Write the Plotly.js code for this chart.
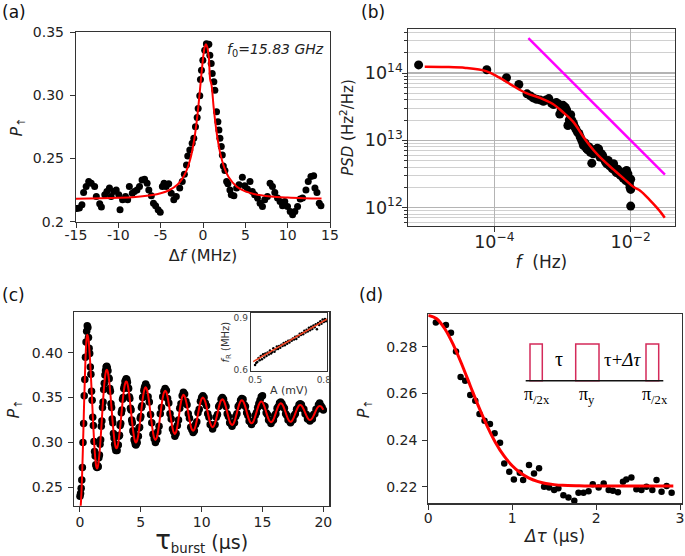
<!DOCTYPE html>
<html><head><meta charset="utf-8">
<script src="https://cdn.plot.ly/plotly-3.0.1.min.js"></script>
<style>html,body{margin:0;padding:0;background:#fff}#chart{width:685px;height:556px}</style>
</head><body><div id="chart"></div>
<script>
// ---------- panel (a) ----------
const aDf = [-14.9,-14.6,-14.3,-14.1,-13.8,-13.5,-13.2,-12.8,-12.6,-12.2,-12.0,-11.6,-11.35,-11.05,-10.85,-10.55,-10.25,-9.95,-9.8,-9.5,-9.15,-8.9,-8.7,-8.35,-8.1,-7.8,-7.5,-7.2,-6.9,-6.6,-6.4,-6.1,-5.85,-5.6,-5.3,-5.05,-4.8,-4.6,-4.35,-4.05,-3.75,-3.45,-3.15,-2.75,-2.45,-2.2,-1.95,-1.8,-1.56,-1.28,-1.09,-0.89,-0.69,-0.57,-0.38,-0.3,-0.18,-0.02,0.2,0.4,0.5,0.69,0.81,0.97,1.09,1.28,1.4,1.6,1.76,1.88,2.0,2.16,2.28,2.4,2.59,2.79,2.94,3.18,3.34,3.65,3.97,4.25,4.65,4.92,5.24,5.55,5.83,6.1,6.43,6.74,7.02,7.29,7.61,7.92,8.2,8.48,8.8,9.1,9.39,9.66,9.98,10.3,10.58,10.85,11.17,11.48,11.76,12.16,12.43,12.75,13.07,13.22,13.46,13.73,13.93];
const aP = [0.2105,0.2108,0.2134,0.2231,0.2279,0.2318,0.2305,0.2279,0.2200,0.2142,0.2116,0.2213,0.2239,0.2266,0.2200,0.2239,0.2252,0.2213,0.2095,0.2174,0.2200,0.2174,0.2279,0.2226,0.2239,0.2252,0.2279,0.2331,0.2337,0.2305,0.2252,0.2205,0.2147,0.2126,0.2095,0.2074,0.2279,0.2305,0.2279,0.2300,0.2226,0.2174,0.2200,0.2266,0.2318,0.2376,0.2450,0.2521,0.2568,0.2621,0.2661,0.2752,0.2826,0.2897,0.2997,0.3126,0.3200,0.3279,0.3358,0.3410,0.3397,0.3405,0.3318,0.3253,0.3174,0.3108,0.3042,0.2871,0.2792,0.2726,0.2661,0.2595,0.2529,0.2442,0.2405,0.2318,0.2300,0.2252,0.2213,0.2205,0.2266,0.2292,0.2352,0.2284,0.2258,0.2318,0.2239,0.2213,0.2187,0.2147,0.2121,0.2174,0.2200,0.2305,0.2279,0.2231,0.2187,0.2160,0.2126,0.2160,0.2121,0.2081,0.2055,0.2081,0.2121,0.2179,0.2187,0.2252,0.2318,0.2358,0.2363,0.2266,0.2231,0.2147,0.2126];
const aFitDf = [-15,-12,-10,-8,-6,-5,-4,-3,-2.5,-2,-1.5,-1.25,-1,-0.75,-0.5,-0.25,0,0.1,0.2,0.35,0.5,0.6,0.7,0.85,1,1.25,1.5,1.75,2,2.5,3,4,5,6,8,10,12,14];
const aFitP = [0.2181,0.2185,0.2189,0.2196,0.2211,0.2225,0.2249,0.2295,0.2335,0.2396,0.2496,0.2570,0.2666,0.2790,0.2945,0.3123,0.3292,0.3345,0.3383,0.3405,0.3383,0.3345,0.3292,0.3123,0.3087,0.2912,0.2763,0.2644,0.2553,0.2430,0.2356,0.2277,0.2240,0.2220,0.2200,0.2191,0.2186,0.2183];

// ---------- panel (b) ----------
const bF = [7.76e-6,7.76e-5,1.51e-4,2.29e-4,3.02e-4,3.39e-4,3.72e-4,4.17e-4,4.68e-4,5.25e-4,5.75e-4,6.31e-4,6.92e-4,7.41e-4,8.13e-4,8.71e-4,9.12e-4,9.55e-4,1.02e-3,1.10e-3,1.15e-3,1.20e-3,1.26e-3,1.32e-3,1.38e-3,1.45e-3,1.51e-3,1.58e-3,1.66e-3,1.74e-3,1.82e-3,1.91e-3,2.00e-3,2.04e-3,2.14e-3,2.24e-3,2.34e-3,2.45e-3,2.57e-3,2.69e-3,2.82e-3,2.95e-3,3.09e-3,3.24e-3,3.39e-3,3.55e-3,3.72e-3,3.89e-3,4.07e-3,4.27e-3,4.47e-3,4.68e-3,4.90e-3,5.13e-3,5.37e-3,5.62e-3,5.89e-3,6.17e-3,6.46e-3,6.76e-3,7.08e-3,7.41e-3,7.76e-3,8.13e-3,8.51e-3,8.71e-3,9.12e-3,9.33e-3,9.55e-3,9.77e-3,1.00e-2,1.00e-2,1.00e-2];
const bPSD = [1.32e14,1.12e14,8.51e13,6.76e13,4.90e13,4.57e13,4.27e13,4.07e13,3.98e13,3.80e13,3.98e13,4.17e13,3.55e13,3.39e13,3.63e13,3.47e13,2.45e13,2.82e13,3.31e13,3.09e13,2.82e13,1.66e13,2.00e13,2.40e13,1.95e13,1.78e13,1.58e13,1.45e13,1.32e13,1.26e13,1.12e13,1.00e13,8.91e12,8.32e12,9.12e12,7.59e12,7.24e12,7.94e12,6.61e12,4.57e12,6.31e12,7.24e12,6.92e12,7.59e12,7.41e12,5.62e12,6.31e12,5.89e12,5.25e12,4.79e12,4.47e12,5.01e12,4.17e12,4.27e12,3.80e12,4.47e12,3.55e12,3.31e12,3.72e12,3.16e12,3.02e12,3.31e12,2.75e12,2.95e12,2.51e12,3.55e12,3.16e12,2.69e12,2.29e12,2.00e12,2.63e12,1.86e12,1.05e12];
const bFitF = [9.55e-6,1.91e-5,3.80e-5,7.76e-5,1.17e-4,1.86e-4,2.95e-4,4.68e-4,7.24e-4,1.02e-3,1.45e-3,2.04e-3,2.88e-3,3.98e-3,5.62e-3,7.94e-3,1.12e-2,1.38e-2,1.91e-2,2.51e-2,3.16e-2];
const bFitPSD = [1.24e14,1.23e14,1.19e14,1.06e14,8.63e13,6.49e13,5.01e13,4.27e13,3.47e13,2.61e13,1.86e13,1.11e13,7.06e12,5.01e12,3.66e12,2.69e12,2.00e12,1.78e12,1.29e12,9.55e11,7.08e11];
const bRefF = [3.16e-4,3.18e-2];
const bRefPSD = [3.31e14,3.09e12];

// ---------- panel (c) ----------
const cT = [0,0.05,0.1,0.15,0.2,0.25,0.3,0.35,0.4,0.45,0.5,0.55,0.6,
0.65,0.7,0.75,0.8,0.85,0.9,0.95,1,1.05,1.1,1.15,1.2,1.25,1.3,1.35,1.4,
1.45,1.5,1.55,1.6,1.65,1.7,1.75,1.8,1.85,1.9,1.95,2,2.05,2.1,2.15,2.2,
2.25,2.3,2.35,2.4,2.45,2.5,2.55,2.6,2.65,2.7,2.75,2.8,2.85,2.9,2.95,3,
3.05,3.1,3.15,3.2,3.25,3.3,3.35,3.4,3.45,3.5,3.55,3.6,3.65,3.7,3.75,3.8,
3.85,3.9,3.95,4,4.05,4.1,4.15,4.2,4.25,4.3,4.35,4.4,4.45,4.5,4.55,4.6,
4.65,4.7,4.75,4.8,4.85,4.9,4.95,5,5.05,5.1,5.15,5.2,5.25,5.3,5.35,5.4,
5.5,5.6,5.7,5.8,5.9,6.0,6.1,6.2,
6.3,6.4,6.5,6.6,6.7,6.8,6.9,7.0,
7.1,7.2,7.3,7.4,7.5,7.6,7.7,7.8,
7.9,8.0,8.1,8.2,8.3,8.4,8.5,
8.6,8.7,8.8,8.9,9.0,9.1,9.2,9.3,
9.4,9.5,9.6,9.7,9.8,9.9,10.0,10.1,
10.2,10.3,10.4,10.5,10.6,10.7,10.8,10.9,
11.0,11.1,11.2,11.3,11.4,11.5,11.6,11.7,
11.8,11.9,12.0,12.1,12.2,12.3,12.4,12.5,
12.6,12.7,12.8,12.9,13.0,13.1,13.2,13.3,
13.4,13.5,13.6,13.7,13.8,13.9,14.0,14.1,
14.2,14.3,14.4,14.5,14.6,14.7,14.8,14.9,
15.0,15.1,15.2,15.3,15.4,15.5,15.6,15.7,
15.8,15.9,16.0,16.1,16.2,16.3,16.4,16.5,
16.6,16.7,16.8,16.9,17.0,17.1,17.2,17.3,
17.4,17.5,17.6,17.7,17.8,17.9,18.0,18.1,
18.2,18.3,18.4,18.5,18.6,18.7,18.8,18.9,
19.0,19.1,19.2,19.3,19.4,19.5,19.6,19.7,
19.8,19.9,20.0];
const cP = [.240,.243,.249,.258,.272,.300,.321,.352,.370,.395,.412,.424,.430,
.428,.417,.405,.399,.384,.376,.357,.347,.328,.319,.301,.290,.285,.275,.273,.272,
.274,.273,.283,.286,.298,.303,.318,.324,.339,.345,.359,.366,.375,.380,.384,.385,
.383,.380,.372,.371,.360,.357,.343,.339,.326,.322,.310,.305,.298,.294,.291,.292,
.291,.297,.297,.307,.308,.319,.321,.333,.336,.348,.350,.360,.363,.368,.369,.371,
.370,.367,.361,.360,.351,.349,.338,.336,.325,.322,.313,.311,.303,.301,.298,.297,
.299,.300,.307,.307,.316,.317,.327,.329,.339,.341,.350,.351,.358,.361,.363,.365,
.362,.351,.345,.331,.322,.309,.304,.300,
.303,.312,.318,.332,.339,.351,.357,.360,
.358,.349,.344,.332,.326,.315,.312,.307,
.310,.319,.325,.338,.343,.352,.356,
.354,.346,.342,.332,.327,.317,.314,.311,
.313,.320,.323,.333,.337,.346,.350,.352,
.350,.344,.341,.332,.328,.320,.319,.315,
.319,.320,.328,.331,.340,.342,.348,.350,
.348,.343,.340,.332,.329,.322,.321,.318,
.322,.322,.329,.332,.340,.342,.347,.349,
.348,.342,.340,.333,.330,.324,.323,.320,
.323,.324,.330,.333,.339,.343,.347,.351,
.352,.341,.340,.333,.331,.325,.324,.321,
.324,.325,.330,.332,.338,.340,.344,.345,
.343,.340,.338,.332,.330,.325,.325,.322,
.325,.325,.330,.332,.337,.338,.342,.343,
.342,.338,.337,.332,.331,.326,.327,.324,
.327,.326,.331,.332,.337,.337,.342,.344,
.341,.339,.336];
const cFit = [.225,.2283,.2381,.2536,.2738,.2972,.3225,.3478,.3713,.3914,.4069,.4167,.420,
.4186,.4143,.4074,.3982,.3869,.3740,.3600,.3455,.3310,.3170,.3041,.2928,.2836,.2767,.2724,.271,
.2720,.2752,.2803,.2871,.2954,.3049,.3153,.3260,.3367,.3471,.3566,.3649,.3717,.3768,.3800,.381,
.3801,.3777,.3736,.3682,.3616,.3540,.3458,.3372,.3287,.3205,.3129,.3063,.3009,.2968,.2943,.2935,
.2942,.2963,.2997,.3044,.3100,.3164,.3234,.3307,.3380,.3450,.3514,.3570,.3617,.3651,.3672,.368,
.3674,.3654,.3623,.3580,.3529,.3470,.3406,.334,.3274,.3210,.3151,.3100,.3057,.3026,.3006,.300,
.3006,.3023,.3052,.3090,.3136,.3189,.3247,.3307,.3367,.3425,.3478,.3524,.3562,.3591,.3608,.3614,
.3592,.3528,.3433,.3321,.3209,.3114,.3050,.3028,
.3048,.3108,.3197,.3302,.3407,.3496,.3556,.3577,
.3559,.3506,.3428,.3336,.3244,.3166,.3113,.3095,
.3116,.3176,.3263,.3361,.3448,.3508,.353,
.3515,.3471,.3407,.333,.3253,.3189,.3145,.313,
.3144,.3184,.3244,.3315,.3386,.3446,.3486,.350,
.3487,.3452,.3398,.3335,.3272,.3218,.3183,.317,
.3182,.3215,.3266,.3325,.3384,.3435,.3468,.348,
.3469,.3438,.3392,.3337,.3283,.3236,.3206,.3195,
.3205,.3235,.3279,.3332,.3385,.3429,.3459,.347,
.3461,.3433,.3391,.3342,.3293,.3251,.3223,.3213,
.3222,.3248,.3288,.3334,.3380,.3420,.3446,.3455,
.3446,.3421,.3384,.334,.3296,.3259,.3234,.3225,
.3233,.3255,.3290,.3330,.3370,.3405,.3427,.3436,
.3428,.3406,.3372,.3333,.3294,.3260,.3238,.323,
.3237,.3258,.3288,.3324,.3360,.3390,.3411,.3418,
.3412,.3393,.3366,.3334,.3302,.3275,.3256,.325,
.3256,.3273,.3298,.3328,.3358,.3383,.3400,.3406,
.3401,.3386,.3364];

// ---------- inset of (c) ----------
const insA = [0.500,0.505,0.510,0.515,0.520,0.525,0.530,0.535,0.540,0.545,0.550,0.555,0.560,0.565,0.570,0.575,0.580,0.585,0.590,0.595,0.600,0.605,0.610,0.615,0.620,0.625,0.630,0.635,0.640,0.645,0.650,0.655,0.660,0.665,0.670,0.675,0.680,0.685,0.690,0.695,0.700,0.705,0.710,0.715,0.720,0.725,0.730,0.735,0.740,0.745,0.750,0.755,0.760,0.765,0.770,0.775,0.780,0.785,0.790,0.795,0.800,0.805,0.810];
const insF = [0.628,0.640,0.645,0.668,0.655,0.680,0.662,0.690,0.672,0.695,0.680,0.700,0.688,0.712,0.695,0.703,0.725,0.705,0.718,0.735,0.720,0.738,0.728,0.745,0.738,0.755,0.742,0.760,0.750,0.768,0.757,0.772,0.768,0.780,0.775,0.790,0.778,0.795,0.790,0.808,0.800,0.812,0.805,0.825,0.815,0.830,0.820,0.842,0.828,0.848,0.835,0.855,0.845,0.862,0.834,0.870,0.858,0.880,0.865,0.890,0.875,0.893,0.880];
const insFitA = [0.492,0.815];
const insFitF = [0.648,0.893];

// ---------- panel (d) ----------
const dT = [0.09,0.21,0.27,0.33,0.385,0.44,0.50,0.56,0.61,0.67,0.735,0.79,0.855,0.905,0.965,1.02,1.09,1.13,1.20,1.26,1.32,1.38,1.44,1.50,1.55,1.61,1.67,1.74,1.79,1.85,1.91,1.96,2.03,2.09,2.15,2.20,2.26,2.32,2.36,2.42,2.48,2.54,2.60,2.67,2.72,2.78,2.84,2.90];
const dP = [0.2904,0.2893,0.2860,0.2780,0.2670,0.2654,0.2593,0.2569,0.2512,0.2483,0.2469,0.2429,0.2389,0.2300,0.2264,0.2231,0.2260,0.2229,0.2293,0.2257,0.2279,0.2200,0.2197,0.2186,0.2193,0.2164,0.2154,0.2140,0.2174,0.2174,0.2181,0.2211,0.2197,0.2214,0.2186,0.2183,0.2176,0.2221,0.2231,0.2240,0.2189,0.2186,0.2200,0.2186,0.2229,0.2179,0.2203,0.2174];
const dFitT = [0,0.1,0.2,0.3,0.4,0.5,0.6,0.7,0.8,0.9,1.0,1.1,1.2,1.3,1.4,1.5,1.6,1.8,2.0,2.5,2.92];
const dFitP = [0.2935,0.2920,0.2875,0.2807,0.2724,0.2633,0.2543,0.2461,0.2390,0.2333,0.2290,0.2259,0.2237,0.2223,0.2214,0.2209,0.2206,0.2204,0.2203,0.2203,0.2203];

// ---------- build ----------
const FONT = 'DejaVu Sans, Verdana, sans-serif';
const SERIF = 'Liberation Serif, Times New Roman, serif';
const W = 685, H = 556;
const px = v => v / W, py = v => 1 - v / H;

const traces = [
  {x:aDf, y:aP, xaxis:'x', yaxis:'y', mode:'markers', marker:{color:'#000', size:7}},
  {x:aFitDf, y:aFitP, xaxis:'x', yaxis:'y', mode:'lines', line:{color:'#ff0000', width:2, shape:'spline'}},
  {x:bF, y:bPSD, xaxis:'x2', yaxis:'y2', mode:'markers', marker:{color:'#000', size:9}},
  {x:bFitF, y:bFitPSD, xaxis:'x2', yaxis:'y2', mode:'lines', line:{color:'#ff0000', width:2.5, shape:'spline'}},
  {x:bRefF, y:bRefPSD, xaxis:'x2', yaxis:'y2', mode:'lines', line:{color:'#ff00ff', width:2.5}},
  {x:cT, y:cP, xaxis:'x3', yaxis:'y3', mode:'markers', marker:{color:'#000', size:7.5}},
  {x:cT, y:cFit, xaxis:'x3', yaxis:'y3', mode:'lines', line:{color:'#ff0000', width:2, shape:'spline'}},
  {x:insA, y:insF, xaxis:'x4', yaxis:'y4', mode:'markers', marker:{color:'#000', size:2.5}},
  {x:insFitA, y:insFitF, xaxis:'x4', yaxis:'y4', mode:'lines', line:{color:'#f0401e', width:1.5}},
  {x:dT, y:dP, xaxis:'x5', yaxis:'y5', mode:'markers', marker:{color:'#000', size:6.5}},
  {x:dFitT, y:dFitP, xaxis:'x5', yaxis:'y5', mode:'lines', line:{color:'#ff0000', width:3, shape:'spline'}}
];

const baseAx = {showline:true, mirror:true, linecolor:'#333', linewidth:1.2, ticks:'outside', ticklen:5, tickwidth:1, tickcolor:'#333',
  showgrid:false, zeroline:false, automargin:false, tickfont:{family:FONT, size:14, color:'#222'}};
const ax = o => Object.assign({}, baseAx, o);

const PUP = '<i>P</i><sub>↑</sub>';
const layout = {
  width:W, height:H, margin:{l:0,r:0,t:0,b:0}, paper_bgcolor:'#fff', plot_bgcolor:'#fff', showlegend:false,
  font:{family:FONT, color:'#222'},
  xaxis: ax({domain:[px(76),px(330)], anchor:'y', range:[-15,15], tickvals:[-15,-10,-5,0,5,10,15], ticktext:['-15','-10','-5','0','5','10','15'],
    ticklabelstandoff:-5, title:{text:'Δ<i>f</i> (MHz)', font:{size:16}, standoff:8}}),
  yaxis: ax({domain:[py(221.7),py(32.3)], anchor:'x', range:[0.2,0.35], tickvals:[0.2,0.25,0.3,0.35], ticktext:['0.2','0.25','0.30','0.35'],
    ticklabelstandoff:3, title:{text:PUP, font:{size:16}, standoff:6}}),
  xaxis2: ax({domain:[px(407.7),px(675)], anchor:'y2', type:'log', range:[-5.27,-1.35], dtick:2, exponentformat:'power',
    showgrid:true, gridcolor:'#b4b4b4', gridwidth:1.5, ticklabelstandoff:-4,
    title:{text:'<i>f</i>  (Hz)', font:{size:17}, standoff:4}}),
  yaxis2: ax({domain:[py(225.7),py(29.3)], anchor:'x2', type:'log', range:[11.73,14.65], dtick:1, exponentformat:'power',
    showgrid:true, gridcolor:'#b4b4b4', gridwidth:1.5, ticklabelstandoff:-4,
    minor:{dtick:'D1', showgrid:true, gridcolor:'#d0d0d0', gridwidth:1, ticks:'outside', ticklen:3, tickcolor:'#333'},
    title:{text:'<i>PSD</i> (Hz<sup>2</sup>/Hz)', font:{size:15}, standoff:7}}),
  xaxis3: ax({domain:[px(74),px(329.3)], anchor:'y3', range:[-0.49,20.49], tickvals:[0,5,10,15,20], ticklabelstandoff:-2,
    title:{text:'<span style="font-size:26px">τ</span><sub>burst</sub> (μs)', font:{size:19}, standoff:0}}),
  yaxis3: ax({domain:[py(505.7),py(312.3)], anchor:'x3', range:[0.2295,0.445], tickvals:[0.25,0.3,0.35,0.4], ticktext:['0.25','0.30','0.35','0.40'],
    ticklabelstandoff:2, title:{text:PUP, font:{size:16}, standoff:8}}),
  xaxis4: ax({domain:[px(250.7),px(327)], anchor:'y4', range:[0.481,0.814], tickvals:[0.5,0.8], ticktext:['0.5','0.8'], ticks:'', ticklen:0,
    linewidth:1, tickfont:{family:FONT, size:9, color:'#444'}, title:{text:'A (mV)', font:{size:11, color:'#333'}, standoff:2}}),
  yaxis4: ax({domain:[py(371),py(313.3)], anchor:'x4', range:[0.594,0.925], tickvals:[0.6,0.9], ticktext:['0.6','0.9'], ticks:'', ticklen:0,
    linewidth:1, tickfont:{family:FONT, size:9, color:'#444'}, title:{text:'<i>f</i><sub>R</sub> (MHz)', font:{size:10, color:'#333'}, standoff:2}}),
  xaxis5: ax({domain:[px(428.3),px(681.7)], anchor:'y5', range:[0,3.02], tickvals:[0,1,2,3], ticklabelstandoff:-3,
    title:{text:'<i>Δτ</i> (μs)', font:{size:17}, standoff:4}}),
  yaxis5: ax({domain:[py(503.3),py(314.3)], anchor:'x5', range:[0.2129,0.2939], tickvals:[0.22,0.24,0.26,0.28], ticklabelstandoff:2,
    title:{text:PUP, font:{size:16}, standoff:12}}),
  annotations: [
    {text:'(a)', xref:'paper', yref:'paper', x:px(0), y:py(12), xanchor:'left', yanchor:'middle', showarrow:false, font:{size:17, color:'#111'}},
    {text:'(b)', xref:'paper', yref:'paper', x:px(359), y:py(12), xanchor:'left', yanchor:'middle', showarrow:false, font:{size:17, color:'#111'}},
    {text:'(c)', xref:'paper', yref:'paper', x:px(0), y:py(295), xanchor:'left', yanchor:'middle', showarrow:false, font:{size:17, color:'#111'}},
    {text:'(d)', xref:'paper', yref:'paper', x:px(357), y:py(295), xanchor:'left', yanchor:'middle', showarrow:false, font:{size:17, color:'#111'}},
    {text:'<i>f</i><sub>0</sub><i>=15.83 GHz</i>', xref:'paper', yref:'paper', x:px(326), y:py(50), xanchor:'right', yanchor:'middle', showarrow:false, font:{size:14, color:'#222'}},
    {text:'τ', xref:'paper', yref:'paper', x:px(559), y:py(359), xanchor:'center', yanchor:'middle', showarrow:false, font:{family:SERIF, size:20, color:'#000'}},
    {text:'τ+<i>Δτ</i>', xref:'paper', yref:'paper', x:px(623), y:py(359), xanchor:'center', yanchor:'middle', showarrow:false, font:{family:SERIF, size:19, color:'#000'}},
    {text:'π<sub>/2x</sub>', xref:'paper', yref:'paper', x:px(537), y:py(382), xanchor:'center', yanchor:'top', showarrow:false, font:{family:SERIF, size:18, color:'#000'}},
    {text:'π<sub>y</sub>', xref:'paper', yref:'paper', x:px(587), y:py(382), xanchor:'center', yanchor:'top', showarrow:false, font:{family:SERIF, size:18, color:'#000'}},
    {text:'π<sub>/2x</sub>', xref:'paper', yref:'paper', x:px(655), y:py(382), xanchor:'center', yanchor:'top', showarrow:false, font:{family:SERIF, size:18, color:'#000'}}
  ],
  shapes: [
    {type:'rect', xref:'paper', yref:'paper', x0:px(530), x1:px(542.3), y0:py(380.7), y1:py(344), line:{color:'#d42a5a', width:1.5}},
    {type:'rect', xref:'paper', yref:'paper', x0:px(575.7), x1:px(599), y0:py(380.7), y1:py(344), line:{color:'#d42a5a', width:1.5}},
    {type:'rect', xref:'paper', yref:'paper', x0:px(646), x1:px(658.7), y0:py(380.7), y1:py(344), line:{color:'#d42a5a', width:1.5}},
    {type:'line', xref:'paper', yref:'paper', x0:px(525.7), x1:px(663.3), y0:py(380.7), y1:py(380.7), line:{color:'#111', width:1.5}}
  ]
};
Plotly.newPlot('chart', traces, layout, {staticPlot:true, displayModeBar:false});
</script></body></html>
